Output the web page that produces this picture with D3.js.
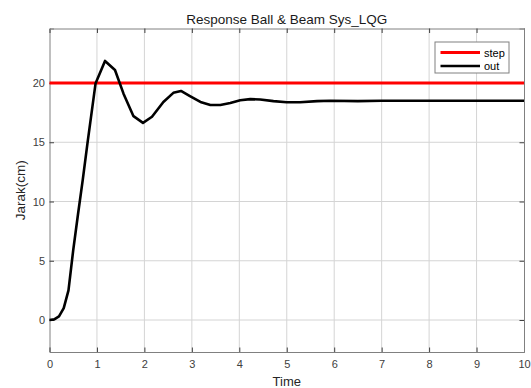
<!DOCTYPE html>
<html>
<head>
<meta charset="utf-8">
<script src="https://cdn.jsdelivr.net/npm/d3@7"></script>
<style>
  body { margin: 0; background: #fff; }
  svg text { font-family: "Liberation Sans", Arial, sans-serif; }
</style>
</head>
<body>
<script>
// data
const timeVals = [0, 0.1, 0.2, 0.3, 0.4, 0.5, 0.6, 0.7, 0.8, 0.97, 1.17, 1.38, 1.56, 1.77, 1.97, 2.16, 2.40, 2.61, 2.77, 2.96, 3.18, 3.39, 3.6, 3.81, 4.02, 4.23, 4.44, 4.72, 5.0, 5.28, 5.64, 5.92, 6.5, 7, 8, 9, 10]
const outVals = [0, 0.05, 0.3, 1.0, 2.5, 5.9, 8.9, 11.8, 14.9, 19.95, 21.86, 21.1, 19.1, 17.2, 16.64, 17.15, 18.4, 19.17, 19.33, 18.9, 18.4, 18.15, 18.15, 18.32, 18.55, 18.64, 18.61, 18.47, 18.38, 18.38, 18.47, 18.5, 18.47, 18.5, 18.5, 18.5, 18.5]
const stepTime = [0, 10]
const stepVals = [20, 20]
const xTicks = [0, 1, 2, 3, 4, 5, 6, 7, 8, 9, 10]
const yTicks = [0, 5, 10, 15, 20]
const legendNames = ['step', 'out']
const legendColors = ['#ff0000', '#000000']

const W = 531, H = 388
const margin = { left: 49.5, right: 7, top: 28.5, bottom: 36 }
const width = W - margin.left - margin.right
const height = H - margin.top - margin.bottom

const svg = d3.select('body').append('svg').attr('width', W).attr('height', H)
const g = svg.append('g').attr('transform', 'translate(' + margin.left + ',' + margin.top + ')')

const x = d3.scaleLinear().domain([0, 10]).range([0, width])
const y = d3.scaleLinear().domain([-2.7, 24.6]).range([height, 0])

// grid
g.append('g').selectAll('line').data(xTicks.slice(1, -1)).enter().append('line')
  .attr('x1', d => x(d)).attr('x2', d => x(d)).attr('y1', 0).attr('y2', height)
  .attr('stroke', '#d4d4d4').attr('stroke-width', 1)
g.append('g').selectAll('line').data(yTicks).enter().append('line')
  .attr('y1', d => y(d)).attr('y2', d => y(d)).attr('x1', 0).attr('x2', width)
  .attr('stroke', '#d4d4d4').attr('stroke-width', 1)

// axes (MATLAB box, ticks inward)
const tick = 4.5
const axisColor = '#808080'
const xa = g.append('g').attr('transform', 'translate(0,' + height + ')')
  .call(d3.axisBottom(x).tickValues(xTicks).tickSize(-tick).tickPadding(8).tickFormat(d3.format('d')))
const xt = g.append('g').call(d3.axisTop(x).tickValues(xTicks).tickSize(-tick).tickFormat(''))
const ya = g.append('g')
  .call(d3.axisLeft(y).tickValues(yTicks).tickSize(-tick).tickPadding(4.5).tickFormat(d3.format('d')))
const yr = g.append('g').attr('transform', 'translate(' + width + ',0)')
  .call(d3.axisRight(y).tickValues(yTicks).tickSize(-tick).tickFormat(''))
;[xa, xt, ya, yr].forEach(a => {
  a.select('.domain').attr('stroke', axisColor)
  a.selectAll('.tick line').attr('stroke', '#404040')
  a.selectAll('.tick text').attr('fill', '#404040').style('font-size', '11px')
})

// lines
const line = d3.line().x(d => x(d[0])).y(d => y(d[1]))
g.append('path').datum(d3.zip(stepTime, stepVals)).attr('d', line)
  .attr('fill', 'none').attr('stroke', legendColors[0]).attr('stroke-width', 3)
g.append('path').datum(d3.zip(timeVals, outVals)).attr('d', line)
  .attr('fill', 'none').attr('stroke', legendColors[1]).attr('stroke-width', 2.6)
  .attr('stroke-linejoin', 'round')

// title & labels
svg.append('text').attr('x', margin.left + width / 2).attr('y', 24)
  .attr('text-anchor', 'middle').style('font-size', '13.5px').attr('fill', '#1a1a1a')
  .text('Response Ball & Beam Sys_LQG')
svg.append('text').attr('x', margin.left + width / 2).attr('y', 386)
  .attr('text-anchor', 'middle').style('font-size', '13px').attr('fill', '#262626')
  .text('Time')
svg.append('text').attr('transform', 'translate(25,' + (margin.top + height / 2) + ') rotate(-90)')
  .attr('text-anchor', 'middle').style('font-size', '13.5px').attr('fill', '#262626')
  .text('Jarak(cm)')

// legend
const lg = svg.append('g').attr('transform', 'translate(435,42)')
lg.append('rect').attr('width', 74).attr('height', 31)
  .attr('fill', '#fff').attr('stroke', '#808080').attr('stroke-width', 1)
legendNames.forEach((n, i) => {
  const yy = 10.5 + i * 13.5
  lg.append('line').attr('x1', 5.5).attr('x2', 45).attr('y1', yy).attr('y2', yy)
    .attr('stroke', legendColors[i]).attr('stroke-width', i === 0 ? 3 : 2.6)
  lg.append('text').attr('x', 49).attr('y', yy + 4).style('font-size', '11px')
    .attr('fill', '#000').text(n)
})
</script>
</body>
</html>
